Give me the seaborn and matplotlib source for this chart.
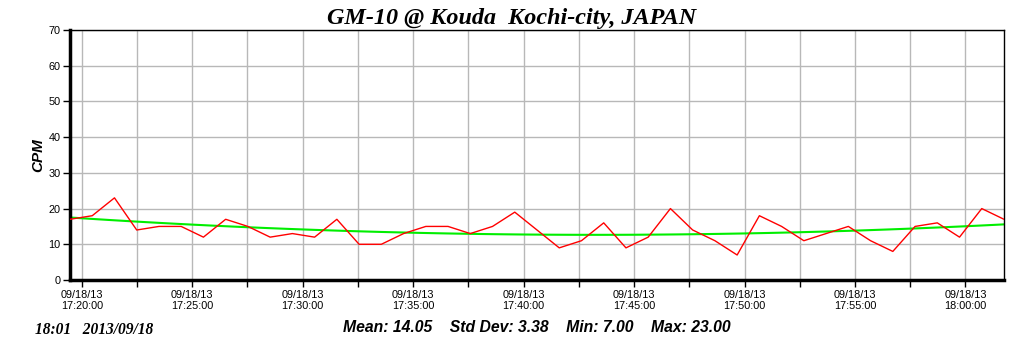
import numpy as np
import pandas as pd
import matplotlib
matplotlib.use("Agg")
import matplotlib.pyplot as plt
import seaborn as sns

# lecturas CPM (una por minuto aprox.)
cpm = [17, 18, 23, 14, 15, 15, 12, 17, 15, 12,
       13, 12, 17, 10, 10, 13, 15, 15, 13, 15,
       19, 14, 9, 11, 16, 9, 12, 20, 14, 11,
       7, 18, 15, 11, 13, 15, 11, 8, 15, 16,
       12, 20, 17]
inicio = "2013-09-18 17:19:28"
paso = "60400ms"
tick_labels = ["09/18/13\n17:20:00", "09/18/13\n17:25:00", "09/18/13\n17:30:00",
               "09/18/13\n17:35:00", "09/18/13\n17:40:00", "09/18/13\n17:45:00",
               "09/18/13\n17:50:00", "09/18/13\n17:55:00", "09/18/13\n18:00:00"]
titulo = "GM-10 @ Kouda  Kochi-city, JAPAN"
pie_fecha = "18:01   2013/09/18"

tiempos = pd.date_range(inicio, periods=len(cpm), freq=paso)
t0 = pd.Timestamp("2013-09-18 17:20:00")
minutos = (tiempos - t0).total_seconds() / 60.0
df = pd.DataFrame({"min": minutos, "cpm": cpm})

sns.set_style("white")
plt.rcParams["font.family"] = ["Liberation Sans", "DejaVu Sans"]
plt.rcParams["text.color"] = "black"
plt.rcParams["axes.labelcolor"] = "black"
plt.rcParams["xtick.color"] = "black"
plt.rcParams["ytick.color"] = "black"

fig = plt.figure(figsize=(10.24, 3.51), dpi=100)
ax = fig.add_axes([70 / 1024, 1 - 280 / 351, 934 / 1024, 250 / 351])

sns.lineplot(data=df, x="min", y="cpm", color="#ff0000", lw=1, ax=ax, zorder=3)
# linea de tendencia (ajuste cuadratico)
sns.regplot(data=df, x="min", y="cpm", order=2, ci=None, scatter=False,
            color="#00ee00", line_kws={"lw": 1.5, "zorder": 2}, ax=ax)

ax.set_xlim(df["min"].min(), df["min"].max())
ax.set_ylim(0, 70)
ax.set_yticks(range(0, 71, 10))
ax.set_xticks(np.arange(0, 41, 5))
ax.set_xticks(np.arange(2.5, 41, 5), minor=True)
ax.set_xticklabels(tick_labels)
ax.grid(True, which="both", color="#b8b8b8", lw=1)
ax.tick_params(axis="both", which="both", direction="out", length=5, width=1,
               labelsize=7.8, color="black", labelcolor="black", pad=2,
               bottom=True, left=True)
ax.set_xlabel("")
ax.set_ylabel("CPM", fontsize=11, fontweight="bold", fontstyle="italic", labelpad=2)

for lado in ["top", "right"]:
    ax.spines[lado].set_linewidth(1)
for lado in ["left", "bottom"]:
    ax.spines[lado].set_linewidth(2.5)
for s in ax.spines.values():
    s.set_color("black")

fig.text(0.5, 0.948, titulo, ha="center", va="center", fontsize=17.4,
         fontweight="bold", fontstyle="italic", family="Liberation Serif")

serie = pd.Series(cpm)
resumen = (f"Mean: {serie.mean():.2f}    Std Dev: {serie.std(ddof=0):.2f}    "
           f"Min: {serie.min():.2f}    Max: {serie.max():.2f}")
fig.text(537 / 1024, 1 - 327 / 351, resumen, ha="center", va="center",
         fontsize=11.3, fontweight="bold", fontstyle="italic")
fig.text(35 / 1024, 1 - 330 / 351, pie_fecha, ha="left", va="center",
         fontsize=11.2, fontweight="bold", fontstyle="italic", family="Liberation Serif")

fig.savefig("out.png", dpi=100)
